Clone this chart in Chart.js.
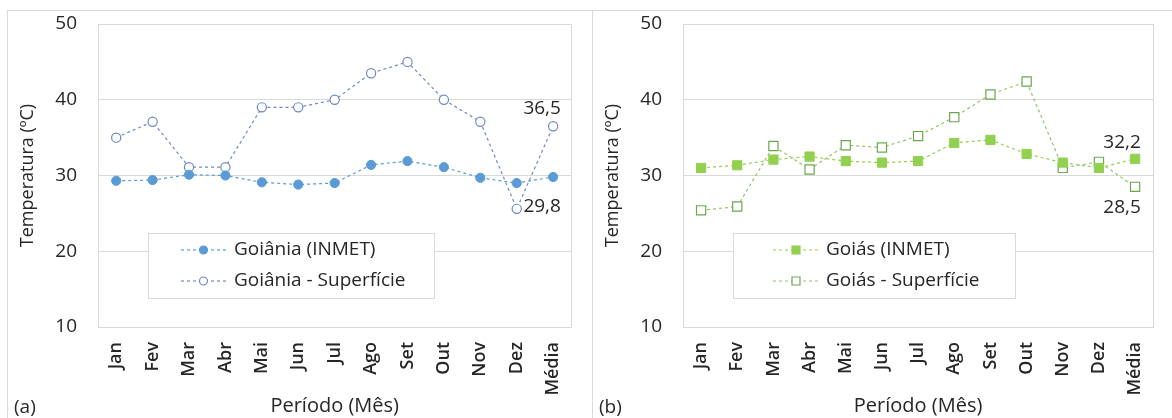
<!DOCTYPE html>
<html>
<head>
<meta charset="utf-8">
<script src="https://cdn.jsdelivr.net/npm/chart.js@4.4.1/dist/chart.umd.min.js"></script>
<style>
  body { margin: 0; background: #fff; }
  #wrap { position: relative; width: 1172px; height: 418px; overflow: hidden; font-family: "Open Sans", sans-serif; }
  .panel { position: absolute; top: 10px; height: 420px; border: 1px solid #d9d9d9; box-sizing: border-box; }
  .cv { position: absolute; top: 0; }
  .tag { position: absolute; top: 393px; font-size: 19px; color: #262626; }
</style>
</head>
<body>
<div id="wrap">
  <div class="panel" style="left:7px;width:586px"></div>
  <div class="panel" style="left:592px;width:590px"></div>
  <canvas id="c1" class="cv" width="590" height="418" style="left:0px"></canvas>
  <canvas id="c2" class="cv" width="587" height="418" style="left:585px"></canvas>
  <div class="tag" style="left:14px">(a)</div>
  <div class="tag" style="left:599px">(b)</div>
</div>
<script>
// months
var meses = ['Jan','Fev','Mar','Abr','Mai','Jun','Jul','Ago','Set','Out','Nov','Dez','Média'];

// (a) Goiânia
var goianiaInmet = [29.3, 29.4, 30.1, 30.0, 29.1, 28.8, 29.0, 31.4, 31.9, 31.1, 29.7, 29.0, 29.8];
var goianiaSup   = [35.0, 37.1, 31.1, 31.1, 39.0, 39.0, 40.0, 43.5, 45.0, 40.0, 37.1, 25.6, 36.5];

// (b) Goiás
var goiasInmet = [31.0, 31.35, 32.1, 32.5, 31.9, 31.7, 31.9, 34.3, 34.7, 32.85, 31.7, 31.0, 32.2];
var goiasSup   = [25.4, 25.9, 33.9, 30.8, 34.0, 33.7, 35.2, 37.7, 40.7, 42.4, 31.0, 31.8, 28.5];

var yTicks = [10, 20, 30, 40, 50];

var FONT = '"Open Sans"';

// plot frame + legend + value labels
var extras = {
  id: 'extras',
  beforeDatasetsDraw: function(chart) {
    var a = chart.chartArea, ctx = chart.ctx;
    ctx.save();
    ctx.strokeStyle = '#d9d9d9';
    ctx.lineWidth = 1;
    ctx.strokeRect(Math.round(a.left) + 0.5, Math.round(a.top) + 0.5, Math.round(a.right - a.left), Math.round(a.bottom - a.top));
    ctx.restore();
  },
  afterDraw: function(chart) {
    var o = chart.options.plugins.extras;
    var ctx = chart.ctx, a = chart.chartArea;
    ctx.save();
    // legend box
    var bx = Math.round(a.left) + 50, by = Math.round(a.top) + 209;
    ctx.fillStyle = '#fff';
    ctx.fillRect(bx, by, o.boxW, 65);
    ctx.strokeStyle = '#d9d9d9';
    ctx.lineWidth = 1;
    ctx.strokeRect(bx + 0.5, by + 0.5, o.boxW, 65);
    chart.data.datasets.forEach(function(ds, i) {
      var ry = by + 17 + i * 31;
      var x0 = bx + o.lineIn, x1 = x0 + o.lineLen;
      ctx.strokeStyle = ds.borderColor;
      ctx.lineWidth = 1.2;
      ctx.setLineDash([3, 3]);
      ctx.beginPath(); ctx.moveTo(x0, ry); ctx.lineTo(x1, ry); ctx.stroke();
      ctx.setLineDash([]);
      var mx = (x0 + x1) / 2;
      ctx.fillStyle = ds.pointBackgroundColor;
      ctx.strokeStyle = ds.pointBorderColor;
      ctx.lineWidth = 1.2;
      ctx.beginPath();
      if (ds.pointStyle === 'rect') {
        ctx.rect(mx - 4, ry - 4, 8, 8);
      } else {
        ctx.arc(mx, ry, 4, 0, Math.PI * 2);
      }
      ctx.fill(); ctx.stroke();
      ctx.fillStyle = '#262626';
      ctx.font = '19px ' + FONT;
      ctx.textBaseline = 'middle';
      ctx.textAlign = 'left';
      ctx.fillText(ds.label, bx + o.textIn, ry);
    });
    // value labels on the last point
    ctx.font = '19px ' + FONT;
    ctx.fillStyle = '#262626';
    ctx.textAlign = 'center';
    ctx.textBaseline = 'middle';
    o.labels.forEach(function(l) {
      var meta = chart.getDatasetMeta(l.ds);
      var p = meta.data[meta.data.length - 1];
      var v = chart.data.datasets[l.ds].data[meta.data.length - 1];
      ctx.fillText(v.toFixed(1).replace('.', ','), p.x + l.dx, p.y + l.dy);
    });
    ctx.restore();
  }
};

function makeChart(id, s1, s2, lab1, lab2, c1, c2, c2edge, style, legendOpt, padRight) {
  var ctx = document.getElementById(id).getContext('2d');
  return new Chart(ctx, {
    type: 'line',
    data: {
      labels: meses,
      datasets: [{
        label: lab1,
        data: s1,
        borderColor: c1,
        borderWidth: 1.2,
        borderDash: [3, 3],
        pointStyle: style,
        pointRadius: style === 'rect' ? 6.5 : 4.6,
        pointBackgroundColor: c1,
        pointBorderColor: c1,
        pointBorderWidth: 1,
        tension: 0
      }, {
        label: lab2,
        data: s2,
        borderColor: c2,
        borderWidth: 1.2,
        borderDash: [3, 3],
        pointStyle: style,
        pointRadius: style === 'rect' ? 6.5 : 4.6,
        pointBackgroundColor: '#fff',
        pointBorderColor: c2edge,
        pointBorderWidth: 1.2,
        tension: 0
      }]
    },
    options: {
      responsive: false,
      animation: false,
      layout: { padding: { top: 24, right: padRight, bottom: 0, left: 0 } },
      plugins: {
        legend: { display: false },
        tooltip: { enabled: false },
        extras: legendOpt
      },
      scales: {
        x: {
          offset: true,
          grid: { display: false, drawTicks: false },
          border: { display: false },
          ticks: {
            minRotation: 90, maxRotation: 90, padding: 15, autoSkip: false,
            color: '#262626', font: { family: FONT, size: 18, weight: 600 }
          },
          title: {
            display: true, text: 'Período (Mês)', color: '#262626',
            font: { family: FONT, size: 20 }, padding: { top: 0, bottom: 0 }
          },
          afterFit: function(s) { s.height = 91; }
        },
        y: {
          min: 10, max: 50,
          afterBuildTicks: function(s) { s.ticks = yTicks.map(function(v) { return { value: v }; }); },
          grid: { color: '#d9d9d9', drawTicks: false, lineWidth: 1 },
          border: { display: false },
          ticks: { padding: 21, color: '#262626', font: { family: FONT, size: 19 } },
          title: {
            display: true, text: 'Temperatura (ºC)', color: '#262626',
            font: { family: FONT, size: 18 }, padding: { top: 17, bottom: 0 }
          },
          afterFit: function(s) { s.width = 98; s.paddingTop = 0; s.paddingBottom = 0; }
        }
      }
    },
    plugins: [extras]
  });
}

makeChart('c1', goianiaInmet, goianiaSup, 'Goiânia (INMET)', 'Goiânia - Superfície',
  '#5b9bd5', '#7088c2', '#6f87c2', 'circle',
  { boxW: 286, lineIn: 33, lineLen: 45, textIn: 86,
    labels: [{ ds: 1, dx: -11, dy: -18 }, { ds: 0, dx: -11, dy: 30 }] }, 7);

makeChart('c2', goiasInmet, goiasSup, 'Goiás (INMET)', 'Goiás - Superfície',
  '#92d050', '#94c26a', '#6aa84f', 'rect',
  { boxW: 282, lineIn: 40, lineLen: 46, textIn: 93,
    labels: [{ ds: 0, dx: -13, dy: -16 }, { ds: 1, dx: -13, dy: 21 }] }, 4);
</script>
</body>
</html>
